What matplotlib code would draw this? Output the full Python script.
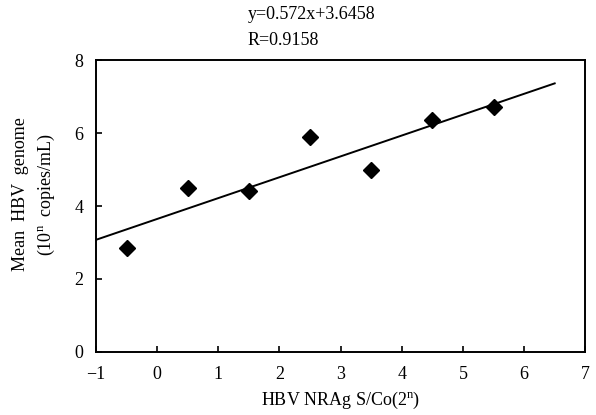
import numpy as np
import matplotlib
matplotlib.use('Agg')
import matplotlib.pyplot as plt

plt.rcParams["font.family"] = ["Liberation Serif", "DejaVu Serif"]
plt.rcParams["font.size"] = 13
plt.rcParams["mathtext.fontset"] = "custom"
plt.rcParams["mathtext.rm"] = "Liberation Serif"

# Data
nraag = [-0.5, 0.5, 1.5, 2.5, 3.5, 4.5, 5.5]   # HBV NRAg S/Co (log2)
genome = [2.85, 4.5, 4.4, 5.9, 5.0, 6.35, 6.72]  # mean HBV genome (log10)
slope = 0.572
intercept = 3.6458
r_value = 0.9158
fit_range = [-1.0, 6.5]

fig = plt.figure(figsize=(5.96, 4.15), dpi=100)
ax = fig.add_axes([0.161, 0.152, 0.821, 0.703])

xs = np.array(fit_range)
ax.plot(xs, slope * xs + intercept, color='k', lw=1.4)
ax.plot(nraag, genome, linestyle='none', marker='D', color='k', markersize=8)

ax.set_xlim(-1, 7)
ax.set_ylim(0, 8)
ax.set_xticks(range(-1, 8))
ax.set_yticks(range(0, 9, 2))
ax.tick_params(axis='x', direction='in', length=4, width=1.2, pad=10)
ax.tick_params(axis='y', direction='in', length=4, width=1.2, pad=9)
for s in ax.spines.values():
    s.set_linewidth(1.4)

ax.set_xlabel(r'HBV NRAg S/Co(2$^{\rm n}$)', labelpad=5)
ax.set_ylabel('Mean  HBV  genome\n(10$^{\\rm n}$  copies/mL)', linespacing=1.45)
ax.yaxis.set_label_coords(-0.08, 0.54)

fig.text(0.416, 0.965, 'y=%.3fx+%.4f' % (slope, intercept), ha='left', va='center')
fig.text(0.416, 0.903, 'R=%.4f' % r_value, ha='left', va='center')

fig.savefig('out.png', dpi=100)
